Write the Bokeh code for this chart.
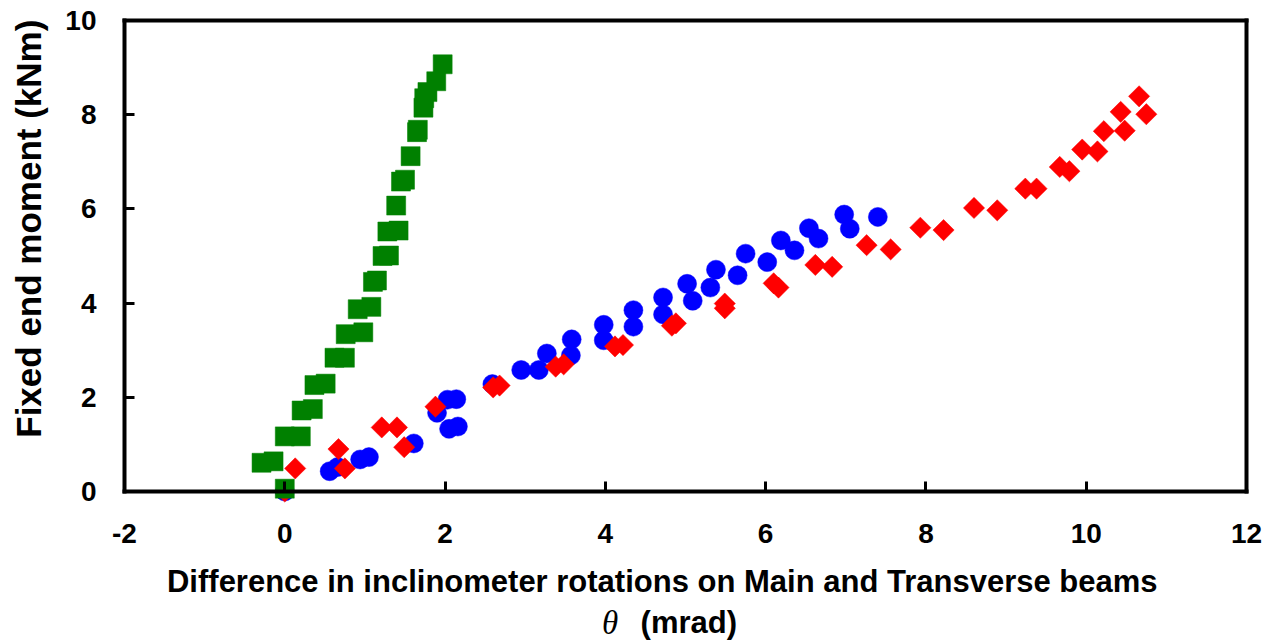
import math
from bokeh.plotting import figure
from bokeh.models import Range1d, FixedTicker, Label, ColumnDataSource, LinearAxis
from bokeh.embed import file_html
from bokeh.resources import INLINE

# ---- data ----
green_x = [0.0, -0.29, -0.14, 0.0, 0.2, 0.21, 0.35, 0.37, 0.51, 0.62, 0.75, 0.76, 0.98,
           0.91, 1.08, 1.1, 1.15, 1.22, 1.3, 1.28, 1.42, 1.39, 1.45, 1.5, 1.57, 1.65,
           1.66, 1.73, 1.74, 1.78, 1.89, 1.97]
green_y = [0.06, 0.61, 0.64, 1.17, 1.17, 1.72, 1.75, 2.26, 2.29, 2.84, 2.84, 3.34, 3.38,
           3.87, 3.92, 4.45, 4.48, 5.0, 5.01, 5.52, 5.54, 6.07, 6.58, 6.62, 7.12, 7.63,
           7.68, 8.15, 8.35, 8.48, 8.71, 9.07]

blue_x = [0.0, 0.56, 0.66, 0.94, 1.05, 1.61, 1.9, 2.03, 2.14, 2.05, 2.16, 2.59, 2.95, 3.17,
          3.27, 3.57, 3.58, 3.98, 3.98, 4.35, 4.35, 4.72, 4.72, 5.02, 5.09, 5.38, 5.31,
          5.75, 5.65, 6.02, 6.19, 6.36, 6.54, 6.66, 6.98, 7.05, 7.40]
blue_y = [0.0, 0.43, 0.52, 0.68, 0.73, 1.02, 1.67, 1.95, 1.96, 1.33, 1.38, 2.28, 2.58, 2.58,
          2.93, 2.89, 3.23, 3.54, 3.21, 3.85, 3.5, 4.12, 3.76, 4.41, 4.05, 4.71, 4.33,
          5.05, 4.59, 4.87, 5.33, 5.12, 5.59, 5.37, 5.88, 5.58, 5.83]

red_x = [0.0, 0.13, 0.67, 0.75, 1.21, 1.40, 1.49, 1.88, 2.6, 2.68, 3.38, 3.48, 4.12, 4.22,
         4.83, 4.88, 5.49, 5.49, 6.1, 6.16, 6.62, 6.83, 7.26, 7.56, 7.93, 8.22, 8.6, 8.89,
         9.24, 9.38, 9.67, 9.79, 9.95, 10.14, 10.22, 10.48, 10.43, 10.66, 10.75]
red_y = [0.0, 0.49, 0.9, 0.49, 1.36, 1.36, 0.94, 1.8, 2.21, 2.25, 2.65, 2.7, 3.08, 3.11,
         3.52, 3.57, 3.99, 3.89, 4.42, 4.33, 4.81, 4.77, 5.23, 5.14, 5.6, 5.55, 6.02, 5.97,
         6.43, 6.43, 6.89, 6.8, 7.26, 7.22, 7.65, 7.66, 8.06, 8.39, 8.01]

x_ticks = [-2, 0, 2, 4, 6, 8, 10, 12]
y_ticks = [0, 2, 4, 6, 8, 10]
x_min, x_max = -2, 12
y_min, y_max = 0, 10

x_title = "Difference in inclinometer rotations on Main and Transverse beams"
y_title = "Fixed end moment (kNm)"
theta_text = "\u03b8"
unit_text = "(mrad)"

FONT = "Liberation Sans"

W, H = 1264, 641
# plot box in pixels: left 124, right 1246, top 20, bottom 491
sx = (1246 - 124) / (x_max - x_min)
sy = (491 - 20) / (y_max - y_min)
xr = Range1d(x_min - 124 / sx, x_max + (W - 1246) / sx)
yr = Range1d(y_min - (H - 491) / sy, y_max + 20 / sy)

p = figure(width=W, height=H, output_backend="svg", toolbar_location=None,
           x_range=xr, y_range=yr,
           min_border_left=0, min_border_right=0, min_border_top=0,
           min_border_bottom=0)
p.title.visible = False
p.xgrid.visible = False
p.ygrid.visible = False
p.outline_line_color = None
p.border_fill_color = "white"
p.background_fill_color = "white"

xa = p.xaxis[0]
ya = p.yaxis[0]
xa.fixed_location = y_min
ya.fixed_location = x_min
xa.bounds = (x_min, x_max)
ya.bounds = (y_min, y_max)

top = LinearAxis(fixed_location=y_max, bounds=(x_min, x_max))
right = LinearAxis(fixed_location=x_max, bounds=(y_min, y_max))
p.add_layout(top, "above")
p.add_layout(right, "right")

for ax in (xa, ya, top, right):
    ax.axis_line_width = 4
    ax.axis_line_color = "black"
    ax.axis_line_cap = "square"
    ax.minor_tick_line_color = None

for ax in (top, right):
    ax.major_tick_line_color = None
    ax.major_label_text_font_size = "0px"
    ax.major_label_text_color = None
    ax.ticker = FixedTicker(ticks=[])

for ax in (xa, ya):
    ax.major_tick_in = 10
    ax.major_tick_out = 0
    ax.major_tick_line_width = 3
    ax.major_tick_line_color = "black"
    ax.major_label_text_font = FONT
    ax.major_label_text_font_style = "bold"
    ax.major_label_text_font_size = "28px"
    ax.major_label_text_color = "black"

xa.ticker = FixedTicker(ticks=x_ticks)
ya.ticker = FixedTicker(ticks=y_ticks)
xa.major_label_overrides = {t: str(t) for t in x_ticks}
xa.major_label_standoff = 32
ya.major_label_standoff = 28

blue_src = ColumnDataSource(dict(x=blue_x, y=blue_y))
red_src = ColumnDataSource(dict(x=red_x, y=red_y))
green_src = ColumnDataSource(dict(x=green_x, y=green_y))

p.scatter("x", "y", source=blue_src, marker="circle", size=19,
          fill_color="#0000FF", line_color="#0000FF", line_width=0.5)
p.scatter("x", "y", source=red_src, marker="square", size=15, angle=math.pi / 4,
          fill_color="#FF0000", line_color="#FF0000", line_width=0.5)
p.scatter("x", "y", source=green_src, marker="square", size=19,
          fill_color="#008000", line_color="#008000", line_width=0.5)

p.add_layout(Label(x=4.71, y=-1.91, text=x_title, text_align="center",
                   text_baseline="middle", text_font=FONT, text_font_style="bold",
                   text_font_size="31px", text_color="black"))
p.add_layout(Label(x=4.06, y=-2.80, text=theta_text, text_align="center",
                   text_baseline="middle", text_font="Liberation Serif",
                   text_font_style="italic", text_font_size="33px", text_color="black"))
p.add_layout(Label(x=4.44, y=-2.78, text=unit_text, text_align="left",
                   text_baseline="middle", text_font=FONT, text_font_style="bold",
                   text_font_size="31px", text_color="black"))
p.add_layout(Label(x=-3.20, y=5.58, text=y_title, text_align="center",
                   text_baseline="middle", angle=math.pi / 2, text_font=FONT,
                   text_font_style="bold", text_font_size="35px", text_color="black"))

open("out.html", "w").write(file_html(p, INLINE))
